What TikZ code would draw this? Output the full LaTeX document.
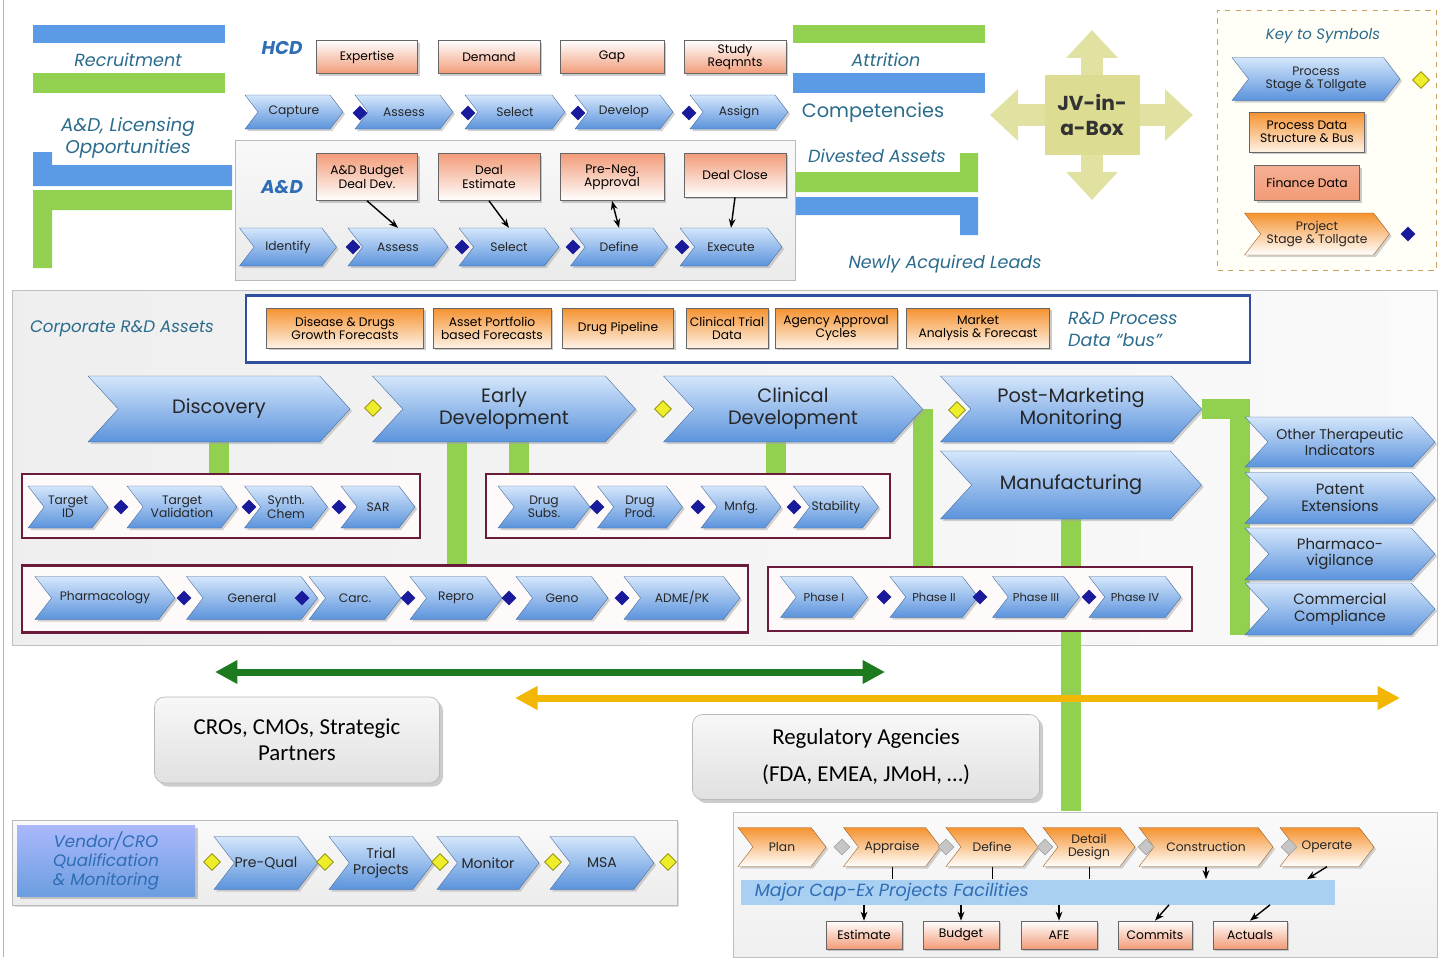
\documentclass[tikz,border=0pt]{standalone}
\usepackage{fontspec}
\setmainfont{Poppins}
\newfontfamily\calfont{Carlito}
\usepackage{tikz}
\usetikzlibrary{shapes,shapes.symbols,shapes.geometric,arrows.meta,shadows,backgrounds,calc,positioning}
\pgfdeclarelayer{panel}
\pgfsetlayers{panel,background,main}
\definecolor{stgA}{HTML}{D4E6FB}
\definecolor{stgB}{HTML}{5B93DC}
\definecolor{barblue}{HTML}{5B9BE6}
\definecolor{bargreen}{HTML}{92D050}
\definecolor{lbltxt}{HTML}{2B6B8C}
\definecolor{hdblue}{HTML}{2F6DB5}
\definecolor{salmon}{HTML}{F29B78}
\definecolor{dataor}{HTML}{F5922F}
\definecolor{grpline}{HTML}{6A1B3C}
\definecolor{tollnavy}{HTML}{1A1A9C}
\definecolor{gateyel}{HTML}{EDED2A}
\definecolor{jvcol}{HTML}{DCDC92}
\definecolor{darkgr}{HTML}{1E7A1E}
\definecolor{ambr}{HTML}{F2B705}
\definecolor{busblue}{HTML}{2F4E9E}
\definecolor{bandblue}{HTML}{A9CFF2}
\definecolor{keyline}{HTML}{C8A060}
\newcommand\fs[2]{\fontsize{#1}{#2}\selectfont}

\begin{document}
\begin{tikzpicture}[x=0.02cm, y=-0.02cm]
\tikzset{
 pxw/.style={minimum width=#1*0.02cm},
 pxh/.style={minimum height=#1*0.02cm},
 stage/.style={signal, signal to=east, signal from=west, signal pointer angle=105, inner sep=0pt, top color=stgA, bottom color=stgB, draw=stgB!70!black, very thin, align=center, text=black!85, font=\fs{7}{7.5}, drop shadow={shadow xshift=1.2pt, shadow yshift=-1.2pt, fill=gray!70}},
 bigstage/.style={stage, signal pointer angle=95, font=\fs{11}{12.5}},
 sidestage/.style={stage, signal pointer angle=95, font=\fs{8.5}{9.5}},
 projstage/.style={stage, top color=dataor, bottom color=white, draw=dataor!60!black},
 gate/.style={diamond, inner sep=0pt, minimum size=0.3cm, fill=tollnavy},
 ygate/.style={diamond, inner sep=0pt, minimum size=0.34cm, fill=gateyel, draw=olive, thin},
 ggate/.style={diamond, inner sep=0pt, minimum size=0.32cm, fill=gray!45, draw=gray!70, thin},
 finbox/.style={rectangle, inner sep=1pt, top color=white, bottom color=salmon, draw=black!60, thin, align=center, font=\fs{7}{7.5}, drop shadow={shadow xshift=1.2pt, shadow yshift=-1.2pt, fill=gray!80}},
 topfin/.style={finbox, top color=salmon, bottom color=white},
 databox/.style={finbox, top color=dataor, bottom color=dataor!12},
 grp/.style={rectangle, draw=grpline, line width=1.6pt, fill=pink!8},
 lbl/.style={text=lbltxt, font=\fs{10}{12}\itshape, align=center},
 hd/.style={text=hdblue, font=\fs{10.5}{12}\bfseries\itshape},
 partner/.style={rectangle, rounded corners=0.2cm, top color=gray!6, bottom color=gray!24, draw=gray!55, align=center, font=\calfont\fs{13}{15}, drop shadow={shadow xshift=2pt, shadow yshift=-2pt, fill=gray!80}},
 gbar/.style={bargreen, line width=0.4cm},
 jvarr/.style={jvcol!85!white, line width=0.44cm, -{Triangle[width=1cm,length=0.56cm]}},
 ptr/.style={-{Stealth[length=0.18cm]}, thick},
}
\useasboundingbox (0,0) rectangle (1443,957);
\draw[gray!60] (3,0) -- (3,957);

% HCD and A&D
\node[lbl] (recr) at (128,60) {Recruitment};
\node[lbl, font=\fs{10.5}{12.5}\itshape] (lic) at (128,138) {A\&D, Licensing\\Opportunities};
\node[hd] (hcd) at (282,48) {HCD};
\node[hd] (ad) at (282,187) {A\&D};

\node[finbox, pxw=101, pxh=33] (expert) at (367,57) {Expertise};
\node[finbox, pxw=102, pxh=33] (demand) at (489,57) {Demand};
\node[finbox, pxw=104, pxh=33] (gap) at (612,57) {Gap};
\node[finbox, pxw=102, pxh=33] (study) at (735,57) {Study\\Reqmnts};

\node[stage, pxw=98, pxh=34] (capt) at (294,112) {Capture};
\node[stage, pxw=98, pxh=34] (hass) at (404,112) {Assess};
\node[stage, pxw=100, pxh=34] (hsel) at (515,112) {Select};
\node[stage, pxw=98, pxh=34] (hdev) at (624,112) {Develop};
\node[stage, pxw=98, pxh=34] (hasg) at (739,112) {Assign};
\node[gate] at (360,113) {};
\node[gate] at (468,113) {};
\node[gate] at (578,113) {};
\node[gate] at (689,113) {};

\node[topfin, pxw=101, pxh=47] (adbud) at (367,177) {A\&D Budget\\Deal Dev.};
\node[topfin, pxw=102, pxh=47] (adest) at (489,177) {Deal\\Estimate};
\node[topfin, pxw=104, pxh=47] (adneg) at (612,177) {Pre-Neg.\\Approval};
\node[topfin, pxw=102, pxh=44] (adclo) at (735,175) {Deal Close};

\node[stage, pxw=97, pxh=38] (aid) at (288,247) {Identify};
\node[stage, pxw=100, pxh=38] (aass) at (398,247) {Assess};
\node[stage, pxw=100, pxh=38] (asel) at (509,247) {Select};
\node[stage, pxw=97, pxh=38] (adef) at (619,247) {Define};
\node[stage, pxw=102, pxh=38] (aexe) at (731,247) {Execute};
\node[gate] at (353,247) {};
\node[gate] at (462,247) {};
\node[gate] at (573,247) {};
\node[gate] at (682,247) {};

\draw[ptr] (adbud.south) -- (aass.north);
\draw[ptr] (adest.south) -- (asel.north);
\draw[ptr, {Stealth[length=0.18cm]}-{Stealth[length=0.18cm]}] (adneg.south) -- (adef.north);
\draw[ptr] (adclo.south) -- (aexe.north);

\node[lbl] (attr) at (886,60) {Attrition};
\node[lbl, font=\fs{11}{12}] (comp) at (873,113) {Competencies};
\node[lbl] (dives) at (877,156) {Divested Assets};
\node[lbl] (newly) at (945,264) {Newly Acquired Leads};

% JV-in-a-Box
\coordinate (jvc) at (1092,115);
\coordinate (jvup) at (1092,30);
\coordinate (jvdn) at (1092,200);
\coordinate (jvlt) at (990,115);
\coordinate (jvrt) at (1193,115);
\draw[jvarr] (jvc) -- (jvup);
\draw[jvarr] (jvc) -- (jvdn);
\draw[jvarr] (jvc) -- (jvlt);
\draw[jvarr] (jvc) -- (jvrt);
\node[rectangle, fill=jvcol, pxw=95, pxh=80, align=center, text=black!80, font=\fs{11.5}{14}\bfseries] (jv) at (jvc) {JV-in-\\a-Box};

% key
\node[rectangle, draw=keyline, dashed, fill=yellow!3, pxw=219, pxh=260] (keybox) at (1327,140) {};
\node[lbl, font=\fs{8.5}{10}\itshape] (keyttl) at (1323,36) {Key to Symbols};
\node[stage, pxw=168, pxh=43] (kproc) at (1316,79) {Process\\Stage \& Tollgate};
\node[ygate] (kyg) at (1421,80) {};
\node[databox, pxw=115, pxh=40] (kdata) at (1307,132) {Process Data\\Structure \& Bus};
\node[finbox, pxw=105, pxh=35, top color=salmon!80] (kfin) at (1307,183) {Finance Data};
\node[projstage, pxw=145, pxh=42] (kproj) at (1317,234) {Project\\Stage \& Tollgate};
\node[gate] (kbg) at (1408,234) {};

% corporate R&D
\node[lbl, font=\fs{9.5}{11}\itshape] (corp) at (122,329) {Corporate R\&D Assets};
\node[rectangle, draw=busblue, line width=1.5pt, fill=white, pxw=1004, pxh=67] (bus) at (748,329) {};
\node[databox, pxw=157, pxh=40] (dis) at (345,328) {Disease \& Drugs\\Growth Forecasts};
\node[databox, pxw=118, pxh=40] (asset) at (492,328) {Asset Portfolio\\based Forecasts};
\node[databox, pxw=111, pxh=40] (pipe) at (618,328) {Drug Pipeline};
\node[databox, pxw=82, pxh=40] (ctd) at (727,328) {Clinical Trial\\Data};
\node[databox, pxw=122, pxh=40] (agency) at (836,328) {Agency Approval\\Cycles};
\node[databox, pxw=143, pxh=40] (market) at (978,328) {Market\\Analysis \& Forecast};
\node[lbl, anchor=west, align=left, font=\fs{10}{12.5}\itshape] (buslbl) at (1062,329) {R\&D Process\\Data “bus”};

\node[bigstage, pxw=262, pxh=66] (disc) at (219,409) {Discovery};
\node[bigstage, pxw=263, pxh=66] (edev) at (504,409) {Early\\Development};
\node[bigstage, pxw=259, pxh=66] (clin) at (793,409) {Clinical\\Development};
\node[bigstage, pxw=261, pxh=66] (pmm) at (1071,409) {Post-Marketing\\Monitoring};
\node[bigstage, pxw=261, pxh=68] (mfg) at (1071,485) {Manufacturing};
\node[ygate] at (373,408) {};
\node[ygate] at (663,409) {};
\node[ygate] at (957,410) {};

\node[sidestage, pxw=190, pxh=50, font=\fs{8}{9}] (oth) at (1340,442) {Other Therapeutic\\Indicators};
\node[sidestage, pxw=190, pxh=51] (pat) at (1340,498) {Patent\\Extensions};
\node[sidestage, pxw=190, pxh=52] (pv) at (1340,554) {Pharmaco-\\vigilance};
\node[sidestage, pxw=190, pxh=52] (cc) at (1340,609) {Commercial\\Compliance};

\node[grp, pxw=398, pxh=64] (grp1) at (221,506) {};
\node[grp, pxw=404, pxh=64] (grp2) at (688,506) {};
\node[grp, pxw=726, pxh=67] (grp3) at (385,599) {};
\node[grp, pxw=424, pxh=64] (grp4) at (980,599) {};

\node[stage, pxw=80, pxh=42] (tid) at (68,507) {Target\\ID};
\node[stage, pxw=110, pxh=42] (tval) at (182,507) {Target\\Validation};
\node[stage, pxw=83, pxh=42] (syn) at (286,507) {Synth.\\Chem};
\node[stage, pxw=74, pxh=42] (sar) at (378,507) {SAR};
\node[gate] at (121,507) {};
\node[gate] at (249,507) {};
\node[gate] at (339,507) {};

\node[stage, pxw=92, pxh=42] (dsub) at (544,507) {Drug\\Subs.};
\node[stage, pxw=85, pxh=42] (dprod) at (640,507) {Drug\\Prod.};
\node[stage, pxw=80, pxh=42] (mnfg) at (741,507) {Mnfg.};
\node[stage, pxw=85, pxh=42] (stab) at (836,507) {Stability};
\node[gate] at (597,507) {};
\node[gate] at (698,507) {};
\node[gate] at (794,507) {};

\node[stage, pxw=140, pxh=43] (pharm) at (105,598) {Pharmacology};
\node[stage, pxw=131, pxh=43] (gen) at (252,598) {General};
\node[stage, pxw=92, pxh=43] (carc) at (355,598) {Carc.};
\node[stage, pxw=92, pxh=43] (repro) at (456,598) {Repro};
\node[stage, pxw=92, pxh=43] (geno) at (562,598) {Geno};
\node[stage, pxw=116, pxh=43] (adme) at (682,598) {ADME/PK};
\node[gate] at (184,598) {};
\node[gate] at (302,598) {};
\node[gate] at (408,598) {};
\node[gate] at (509,598) {};
\node[gate] at (622,598) {};

\node[stage, pxw=87, pxh=41, font=\fs{6.5}{7}] (ph1) at (824,597) {Phase I};
\node[stage, pxw=88, pxh=41, font=\fs{6.5}{7}] (ph2) at (934,597) {Phase II};
\node[stage, pxw=87, pxh=41, font=\fs{6.5}{7}] (ph3) at (1036,597) {Phase III};
\node[stage, pxw=92, pxh=41, font=\fs{6.5}{7}] (ph4) at (1135,597) {Phase IV};
\node[gate] at (884,597) {};
\node[gate] at (980,597) {};
\node[gate] at (1089,597) {};

% partners and agencies
\coordinate (gl) at (215,672);
\coordinate (gr) at (885,672);
\coordinate (yl) at (515,698);
\coordinate (yr) at (1400,698);
\draw[darkgr, line width=0.14cm, {Triangle[width=0.45cm,length=0.45cm]}-{Triangle[width=0.45cm,length=0.45cm]}] (gl) -- (gr);
\draw[ambr, line width=0.14cm, {Triangle[width=0.45cm,length=0.45cm]}-{Triangle[width=0.45cm,length=0.45cm]}] (yl) -- (yr);
\node[partner, pxw=285, pxh=86] (cro) at (297,740) {CROs, CMOs, Strategic\\Partners};
\node[partner, pxw=347, pxh=85] (reg) at (866,757) {Regulatory Agencies\\[6pt](FDA, EMEA, JMoH, …)};

% vendor
\node[rectangle, top color=blue!20!stgA, bottom color=stgB!90, pxw=178, pxh=70, align=center, text=hdblue, font=\fs{9.5}{11}\itshape, drop shadow={shadow xshift=1.5pt, shadow yshift=-1.5pt, fill=gray!80}] (vend) at (106,861) {Vendor/CRO\\Qualification\\\& Monitoring};
\node[stage, pxw=104, pxh=53, font=\fs{8}{9}] (pq) at (266,863) {Pre-Qual};
\node[stage, pxw=104, pxh=53, font=\fs{8}{9}] (tp) at (381,863) {Trial\\Projects};
\node[stage, pxw=102, pxh=53, font=\fs{8}{9}] (mon) at (488,863) {Monitor};
\node[stage, pxw=104, pxh=53, font=\fs{8}{9}] (msa) at (602,863) {MSA};
\node[ygate] at (212,862) {};
\node[ygate] at (325,862) {};
\node[ygate] at (440,862) {};
\node[ygate] at (553,862) {};
\node[ygate] at (668,862) {};

% cap-ex
\node[projstage, pxw=88, pxh=39] (plan) at (782,847) {Plan};
\node[projstage, pxw=97, pxh=39] (appr) at (892,847) {Appraise};
\node[projstage, pxw=92, pxh=39] (cdef) at (992,847) {Define};
\node[projstage, pxw=92, pxh=39] (ddes) at (1089,847) {Detail\\Design};
\node[projstage, pxw=134, pxh=39] (cons) at (1206,847) {Construction};
\node[projstage, pxw=94, pxh=39] (oper) at (1327,847) {Operate};
\node[ggate] at (842,847) {};
\node[ggate] at (946,847) {};
\node[ggate] at (1045,847) {};
\node[ggate] at (1146,847) {};
\node[ggate] at (1289,847) {};
\node[rectangle, fill=bandblue, pxw=594, pxh=25] (band) at (1038,892) {};
\node[anchor=west, text=hdblue, font=\fs{10}{12}\itshape] (bandlbl) at ($(band.west)+(8,0)$) {Major Cap-Ex Projects Facilities};
\node[finbox, pxw=76, pxh=28] (est) at (864,935) {Estimate};
\node[finbox, pxw=76, pxh=28] (bud) at (961,935) {Budget};
\node[finbox, pxw=76, pxh=28] (afe) at (1059,935) {AFE};
\node[finbox, pxw=74, pxh=28] (comm) at (1155,935) {Commits};
\node[finbox, pxw=74, pxh=28] (act) at (1250,935) {Actuals};
\draw[thin] (appr.south) -- (band.north -| appr.south);
\draw[thin] (cdef.south) -- (band.north -| cdef.south);
\draw[thin] (ddes.south) -- (band.north -| ddes.south);
\draw[ptr] (cons.south) -- (band.north -| cons.south);
\draw[ptr] (oper.south) -- ($(band.north -| oper.south)+(-20,0)$);
\draw[ptr] (band.south -| est.north) -- (est.north);
\draw[ptr] (band.south -| bud.north) -- (bud.north);
\draw[ptr] (band.south -| afe.north) -- (afe.north);
\draw[ptr] ($(band.south -| comm.north)+(14,0)$) -- (comm.north);
\draw[ptr] ($(band.south -| act.north)+(20,0)$) -- (act.north);

% connectors
\begin{pgfonlayer}{background}
\draw[gbar] (disc.south) -- (disc.south |- grp1.north);
\draw[gbar] ($(edev.south)+(-47,0)$) -- ++(0,124);
\draw[gbar] ($(edev.south)+(15,0)$) -- ++(0,32);
\draw[gbar] ($(clin.south)+(-17,0)$) -- ++(0,32);
\draw[gbar] (clin.east) -- (clin.east |- grp4.north);
\draw[gbar] (pmm.east) -| ($(cc.south west)+(-5,0)$);
\draw[gbar] (mfg.south) -- ++(0,292);
\end{pgfonlayer}

% panels and bars
\begin{pgfonlayer}{panel}
\fill[barblue] (33,25) rectangle (225,43);
\fill[bargreen] (33,73) rectangle (225,93);
\fill[barblue] (33,165) rectangle (232,186) (33,152) rectangle (52,165);
\fill[bargreen] (33,190) rectangle (232,210) (33,210) rectangle (52,268);
\fill[bargreen] (793,25) rectangle (985,43);
\fill[barblue] (793,73) rectangle (985,93);
\fill[bargreen] (793,172) rectangle (978,192) (960,153) rectangle (978,172);
\fill[barblue] (795,197) rectangle (978,215) (960,215) rectangle (978,235);
\path[top color=gray!5, bottom color=gray!16, draw=gray!55] (235,140) rectangle (795,280);
\path[left color=gray!13, right color=gray!4, draw=gray!50] (12,290) rectangle (1437,645);
\path[top color=gray!4, bottom color=gray!15, draw=gray!55, drop shadow={shadow xshift=1pt, shadow yshift=-1pt, fill=gray!50}] (12,820) rectangle (677,905);
\path[top color=gray!4, bottom color=gray!12, draw=gray!50] (733,812) rectangle (1437,957);
\end{pgfonlayer}
\end{tikzpicture}
\end{document}
